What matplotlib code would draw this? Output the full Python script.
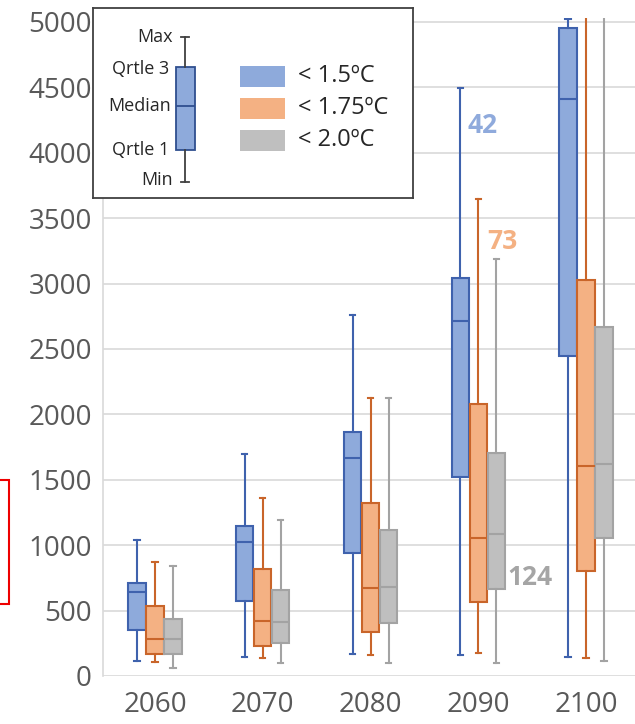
import matplotlib.pyplot as plt
from matplotlib.patches import Rectangle

# ---- data (min, Q1, median, Q3, max) ----
years = ['2060', '2070', '2080', '2090', '2100']
series_labels = ['< 1.5ºC', '< 1.75ºC', '< 2.0ºC']

blue_min = [115, 143, 166, 158, 148]
blue_q1 = [352, 573, 938, 1519, 2446]
blue_med = [640, 1024, 1664, 2714, 4411]
blue_q3 = [709, 1147, 1868, 3043, 4956]
blue_max = [1040, 1695, 2760, 4493, 5020]

orange_min = [105, 135, 161, 173, 135]
orange_q1 = [168, 232, 334, 568, 805]
orange_med = [280, 423, 670, 1052, 1605]
orange_q3 = [537, 818, 1320, 2079, 3027]
orange_max = [874, 1363, 2123, 3644, 5600]

gray_min = [64, 97, 102, 102, 115]
gray_q1 = [168, 255, 403, 668, 1052]
gray_med = [280, 410, 683, 1088, 1621]
gray_q3 = [433, 657, 1116, 1707, 2671]
gray_max = [841, 1190, 2123, 3185, 5600]

# scenario counts annotated in the 2090 group
count_labels = ['42', '73', '124']
count_y = [4210, 3320, 750]

series = [
    (blue_min, blue_q1, blue_med, blue_q3, blue_max),
    (orange_min, orange_q1, orange_med, orange_q3, orange_max),
    (gray_min, gray_q1, gray_med, gray_q3, gray_max),
]
fills = ['#8eaadb', '#f4b183', '#bfbfbf']
edges = ['#3f62ad', '#c9652a', '#a3a3a3']
text_cols = ['#8faadc', '#f4b183', '#a5a5a5']

plt.rcParams['font.family'] = ['Open Sans', 'DejaVu Sans']

fig = plt.figure(figsize=(6.35, 7.24), dpi=100)
ax = fig.add_axes([103 / 635, 48 / 724, 532 / 635, 658 / 724])

offset = 0.167
width = 0.16
for i, (mn, q1, md, q3, mx) in enumerate(series):
    stats = []
    for j in range(len(years)):
        stats.append({'whislo': mn[j], 'q1': q1[j], 'med': md[j],
                      'q3': q3[j], 'whishi': mx[j], 'fliers': []})
    pos = [j + (i - 1) * offset for j in range(len(years))]
    ax.bxp(stats, positions=pos, widths=width, patch_artist=True,
           showfliers=False, manage_ticks=False,
           boxprops=dict(facecolor=fills[i], edgecolor=edges[i], linewidth=1.5),
           medianprops=dict(color=edges[i], linewidth=1.5),
           whiskerprops=dict(color=edges[i], linewidth=1.5),
           capprops=dict(color=edges[i], linewidth=1.5),
           capwidths=0.05)

ax.set_xlim(-0.483, 4.455)
ax.set_ylim(0, 5030)
ax.set_xticks(range(len(years)))
ax.set_xticklabels(years)
ax.set_yticks(range(0, 5001, 500))
ax.tick_params(axis='both', length=0, labelsize=20, labelcolor='#595959')
ax.tick_params(axis='y', pad=8)
ax.tick_params(axis='x', pad=11)
ax.grid(axis='y', color='#d9d9d9', linewidth=1.2)
ax.set_axisbelow(True)
for s in ['top', 'right', 'bottom']:
    ax.spines[s].set_visible(False)
ax.spines['left'].set_color('#d9d9d9')
ax.spines['left'].set_linewidth(1.2)

# count annotations next to the 2090 boxes
count_dx = [0.07, 0.08, 0.1]
for i in range(3):
    ax.text(3 + (i - 1) * offset + count_dx[i], count_y[i], count_labels[i],
            color=text_cols[i], fontsize=19, fontweight='bold',
            ha='left', va='center')

# ---- legend panel with an explanatory box ----
lg = fig.add_axes([93 / 635, 1 - 198 / 724, 320 / 635, 190 / 724])
lg.set_xlim(0, 320)
lg.set_ylim(190, 0)
lg.set_xticks([])
lg.set_yticks([])
for s in lg.spines.values():
    s.set_color('#404040')
    s.set_linewidth(1.3)

key = [{'whislo': 174, 'q1': 142, 'med': 98, 'q3': 59, 'whishi': 29, 'fliers': []}]
lg.bxp(key, positions=[92], widths=19, patch_artist=True, showfliers=False,
       manage_ticks=False,
       boxprops=dict(facecolor=fills[0], edgecolor='#2f4f8f', linewidth=1.3),
       medianprops=dict(color='#2f4f8f', linewidth=1.3),
       whiskerprops=dict(color='#404040', linewidth=1.3),
       capprops=dict(color='#404040', linewidth=1.3),
       capwidths=8)

key_names = ['Max', 'Qrtle 3', 'Median', 'Qrtle 1', 'Min']
key_vals = [29, 61, 98, 142, 172]
key_x = [80, 76, 78, 76, 80]
for name, yv, xv in zip(key_names, key_vals, key_x):
    lg.text(xv, yv, name, fontsize=13, ha='right', va='center', color='#262626')

for i, lab in enumerate(series_labels):
    y0 = 58 + i * 32
    lg.add_patch(Rectangle((147, y0), 45, 21, facecolor=fills[i], edgecolor='none'))
    lg.text(205, y0 + 10, lab, fontsize=17, ha='left', va='center', color='#262626')

# red marker frame at the left edge
fig.patches.append(Rectangle((-10 / 635, 1 - 604 / 724), 19 / 635, 124 / 724,
                             transform=fig.transFigure, fill=False,
                             edgecolor='#ee0000', linewidth=1.5))

fig.savefig('out.png', dpi=100)
